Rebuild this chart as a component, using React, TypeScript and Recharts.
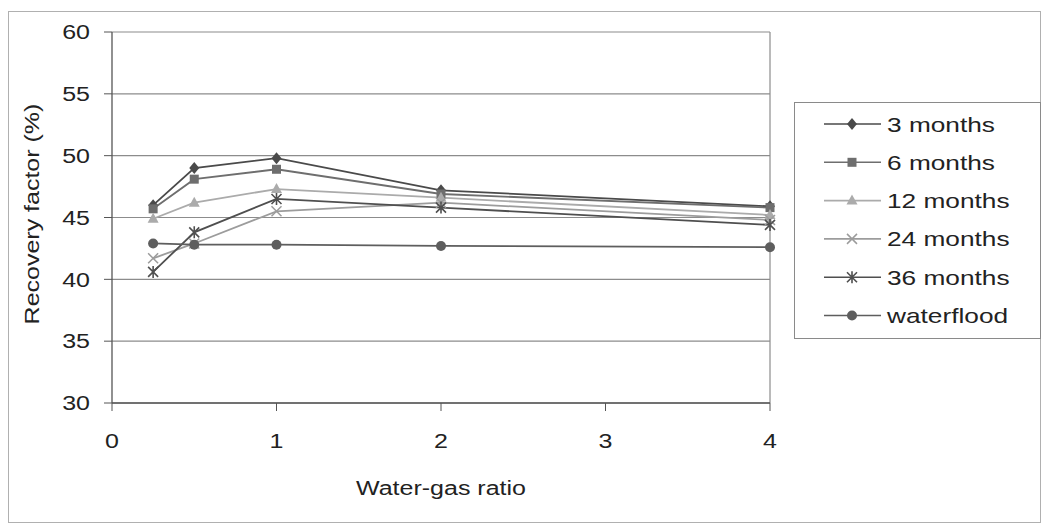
import React from "react";
import {
  LineChart,
  Line,
  XAxis,
  YAxis,
  CartesianGrid,
  ReferenceLine,
} from "recharts";

// water-gas ratio (x) for each point
const WGR = [0.25, 0.5, 1, 2, 4];

// recovery factor (%) per injection cycle
const M3 = [46.0, 49.0, 49.8, 47.2, 45.9];
const M6 = [45.7, 48.1, 48.9, 46.9, 45.8];
const M12 = [44.9, 46.2, 47.3, 46.6, 45.2];
const M24 = [41.7, 42.9, 45.5, 46.2, 44.8];
const M36 = [40.6, 43.8, 46.5, 45.8, 44.4];
const WATERFLOOD = [42.9, 42.8, 42.8, 42.7, 42.6];

const X_TICKS = [0, 1, 2, 3, 4];
const Y_TICKS = [30, 35, 40, 45, 50, 55, 60];

type Shape = "diamond" | "square" | "triangle" | "cross" | "star" | "circle";

const SERIES: { key: string; name: string; values: number[]; color: string; shape: Shape }[] = [
  { key: "m3", name: "3 months", values: M3, color: "#4a4a4a", shape: "diamond" },
  { key: "m6", name: "6 months", values: M6, color: "#6e6e6e", shape: "square" },
  { key: "m12", name: "12 months", values: M12, color: "#ababab", shape: "triangle" },
  { key: "m24", name: "24 months", values: M24, color: "#9c9c9c", shape: "cross" },
  { key: "m36", name: "36 months", values: M36, color: "#4f4f4f", shape: "star" },
  { key: "wf", name: "waterflood", values: WATERFLOOD, color: "#5e5e5e", shape: "circle" },
];

const rows = WGR.map((x, i) => {
  const r: Record<string, number> = { wgr: x };
  SERIES.forEach((s) => (r[s.key] = s.values[i]));
  return r;
});

const FONT = "'Liberation Sans', Arial, sans-serif";
const TEXT = "#222";
const STRETCH = "scale(1.25,1)";

function Marker({ cx, cy, shape, color }: { cx: number; cy: number; shape: Shape; color: string }) {
  if (cx == null || cy == null) return null;
  switch (shape) {
    case "diamond":
      return <polygon points={`${cx},${cy - 6} ${cx + 5},${cy} ${cx},${cy + 6} ${cx - 5},${cy}`} fill={color} />;
    case "square":
      return <rect x={cx - 4.5} y={cy - 4.5} width={9} height={9} fill={color} />;
    case "triangle":
      return <polygon points={`${cx},${cy - 6} ${cx + 5.5},${cy + 4} ${cx - 5.5},${cy + 4}`} fill={color} />;
    case "cross":
      return (
        <path
          d={`M${cx - 5},${cy - 5}L${cx + 5},${cy + 5}M${cx - 5},${cy + 5}L${cx + 5},${cy - 5}`}
          stroke={color}
          strokeWidth={1.5}
        />
      );
    case "star":
      return (
        <path
          d={`M${cx - 5},${cy - 5}L${cx + 5},${cy + 5}M${cx - 5},${cy + 5}L${cx + 5},${cy - 5}M${cx},${cy - 6}L${cx},${cy + 6}`}
          stroke={color}
          strokeWidth={1.6}
        />
      );
    default:
      return <circle cx={cx} cy={cy} r={5} fill={color} />;
  }
}

const YTick = (p: any) => (
  <g transform={`translate(${p.x},${p.y})`}>
    <text textAnchor="end" dy="0.36em" transform={STRETCH} fontSize={20} fontFamily={FONT} fill={TEXT}>
      {p.payload.value}
    </text>
  </g>
);

const XTick = (p: any) => (
  <g transform={`translate(${p.x},${p.y})`}>
    <text textAnchor="middle" dy="0.71em" transform={STRETCH} fontSize={20} fontFamily={FONT} fill={TEXT}>
      {p.payload.value}
    </text>
  </g>
);

const XLabel = (p: any) => {
  const vb = p.viewBox ?? { x: 112, y: 403, width: 658 };
  return (
    <g transform={`translate(${vb.x + vb.width / 2},${vb.y + 85})`}>
      <text textAnchor="middle" dy="0.36em" transform={STRETCH} fontSize={20} fontFamily={FONT} fill={TEXT}>
        Water-gas ratio
      </text>
    </g>
  );
};

const YLabel = () => (
  <g transform="translate(32,214) rotate(-90)">
    <text textAnchor="middle" dy="0.36em" transform={STRETCH} fontSize={20} fontFamily={FONT} fill={TEXT}>
      Recovery factor (%)
    </text>
  </g>
);

function LegendBox() {
  return (
    <div
      style={{
        position: "absolute",
        left: 794,
        top: 102,
        width: 245,
        height: 235,
        border: "1px solid #8a8a8a",
        background: "#fff",
      }}
    >
      <svg width={245} height={235}>
        {SERIES.map((s, i) => {
          const y = 21 + i * 38.3;
          return (
            <g key={s.key}>
              <line x1={29} x2={86} y1={y} y2={y} stroke={s.color} strokeWidth={1.6} />
              <Marker cx={57} cy={y} shape={s.shape} color={s.color} />
              <g transform={`translate(92,${y})`}>
                <text dy="0.36em" transform={STRETCH} fontSize={21} fontFamily={FONT} fill={TEXT}>
                  {s.name}
                </text>
              </g>
            </g>
          );
        })}
      </svg>
    </div>
  );
}

export default function App() {
  return (
    <div style={{ position: "absolute", left: 0, top: 0, width: 1043, height: 524, background: "#fff" }}>
      <div
        style={{
          position: "absolute",
          left: 8,
          top: 11,
          width: 1031,
          height: 510,
          border: "1px solid #b0b0b0",
        }}
      />
      <LineChart
        width={1043}
        height={524}
        data={rows}
        margin={{ top: 32, right: 273, bottom: 0, left: 0 }}
        style={{ position: "absolute", left: 0, top: 0 }}
      >
        <CartesianGrid vertical={false} stroke="#8c8c8c" strokeWidth={1.2} />
        <XAxis
          dataKey="wgr"
          type="number"
          domain={[0, 4]}
          ticks={X_TICKS}
          height={121}
          tickSize={8}
          tickMargin={23}
          tick={<XTick />}
          axisLine={{ stroke: "#555", strokeWidth: 1.3 }}
          tickLine={{ stroke: "#555" }}
          label={<XLabel />}
        />
        <YAxis
          type="number"
          domain={[30, 60]}
          ticks={Y_TICKS}
          width={112}
          tickSize={8}
          tickMargin={14}
          tick={<YTick />}
          axisLine={{ stroke: "#555", strokeWidth: 1.3 }}
          tickLine={{ stroke: "#555" }}
          label={<YLabel />}
        />
        <ReferenceLine x={4} stroke="#8c8c8c" strokeWidth={1.2} />
        {SERIES.map((s) => (
          <Line
            key={s.key}
            dataKey={s.key}
            name={s.name}
            type="linear"
            stroke={s.color}
            strokeWidth={1.8}
            isAnimationActive={false}
            dot={(p: any) => (
              <Marker key={`${s.key}-${p.index}`} cx={p.cx} cy={p.cy} shape={s.shape} color={s.color} />
            )}
            activeDot={false}
          />
        ))}
      </LineChart>
      <LegendBox />
    </div>
  );
}
